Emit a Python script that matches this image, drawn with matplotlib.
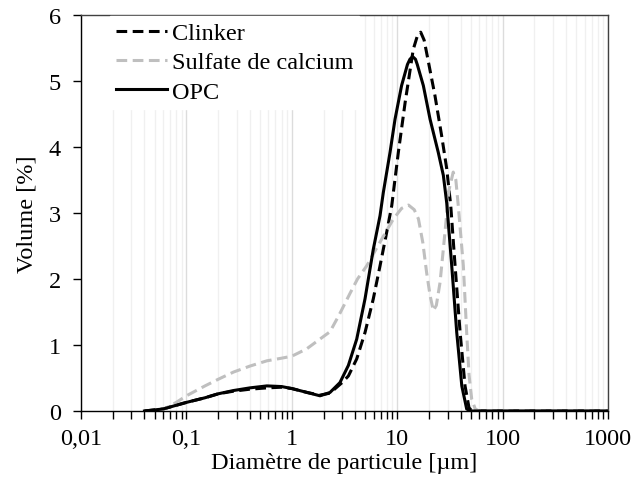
import matplotlib
matplotlib.use('Agg')
import matplotlib.pyplot as plt
from matplotlib.ticker import LogLocator, FixedLocator, FuncFormatter, NullFormatter

# lecture des courbes granulometriques (diametre en um, volume en %)
clinker_x = [0.04, 0.06, 0.1, 0.15, 0.2, 0.28, 0.4, 0.58, 0.8, 1.0, 1.4, 1.85, 2.3, 3.0, 3.44,
             4.13, 4.95, 5.93, 6.87, 7.95, 8.87, 10.25, 11.9, 14.2, 15.5, 16.7, 18.0, 19.0, 22.8,
             26.4, 29.5, 32.2, 35.4, 39.5, 44.0, 48.0, 51.0, 100.0, 1000.0]
clinker_y = [0.0, 0.03, 0.13, 0.2, 0.26, 0.3, 0.33, 0.35, 0.36, 0.34, 0.28, 0.24, 0.27, 0.43, 0.53,
             0.79, 1.19, 1.7, 2.2, 2.71, 3.11, 3.92, 4.68, 5.48, 5.68, 5.74, 5.62, 5.43, 4.78,
             4.17, 3.67, 3.11, 2.2, 1.19, 0.38, 0.05, 0.0, 0.0, 0.0]

sulfate_x = [0.055, 0.065, 0.08, 0.1, 0.15, 0.2, 0.28, 0.4, 0.58, 0.8, 1.0, 1.38, 1.85, 2.3, 2.8,
             3.56, 4.2, 5.14, 6.87, 9.2, 11.0, 12.8, 14.5, 15.9, 17.5, 19.0, 20.5, 22.0, 23.5,
             25.5, 28.4, 31.0, 34.0, 36.0, 38.0, 42.4, 45.6, 48.0, 50.9, 55.0, 60.0, 100.0, 1000.0]
sulfate_y = [0.0, 0.05, 0.13, 0.23, 0.38, 0.48, 0.59, 0.68, 0.76, 0.8, 0.83, 0.94, 1.09, 1.2, 1.45,
             1.78, 2.0, 2.2, 2.56, 2.91, 3.07, 3.12, 3.05, 2.91, 2.55, 2.1, 1.75, 1.52, 1.6,
             1.95, 2.71, 3.35, 3.62, 3.5, 3.1, 2.2, 1.19, 0.55, 0.18, 0.03, 0.0, 0.0, 0.0]

opc_x = [0.04, 0.06, 0.1, 0.15, 0.2, 0.28, 0.4, 0.58, 0.8, 1.0, 1.4, 1.85, 2.3, 2.86, 3.44, 4.13,
         4.95, 5.93, 6.87, 7.38, 8.55, 9.53, 11.0, 12.5, 13.2, 14.0, 14.9, 15.5, 17.7, 20.5, 24.5,
         27.4, 29.5, 32.9, 36.7, 41.0, 45.6, 50.0, 100.0, 1000.0]
opc_y = [0.0, 0.03, 0.13, 0.2, 0.26, 0.31, 0.35, 0.38, 0.37, 0.34, 0.28, 0.23, 0.28, 0.43, 0.69, 1.09,
         1.7, 2.45, 2.96, 3.31, 3.92, 4.42, 4.93, 5.25, 5.33, 5.37, 5.33, 5.25, 4.93, 4.42, 3.92,
         3.57, 3.15, 2.2, 1.19, 0.38, 0.03, 0.0, 0.0, 0.0]

plt.rcParams['font.family'] = ['Liberation Serif', 'DejaVu Serif']

fig = plt.figure(figsize=(6.35, 4.81), dpi=100)
ax = fig.add_axes([0.1276, 0.1435, 0.8299, 0.8232])

ax.plot(clinker_x, clinker_y, color='black', lw=2.2, ls=(0, (3.5, 1.8)), label='Clinker', zorder=3)
ax.plot(sulfate_x, sulfate_y, color='#bfbfbf', lw=2.2, ls=(0, (3.5, 1.8)), label='Sulfate de calcium', zorder=3)
ax.plot(opc_x, opc_y, color='black', lw=2.2, label='OPC', zorder=4)

ax.set_xscale('log')
ax.set_xlim(0.01, 1000)
ax.set_ylim(0, 6)
ax.xaxis.set_major_locator(FixedLocator([0.01, 0.1, 1, 10, 100, 1000]))
ax.xaxis.set_minor_locator(LogLocator(base=10, subs=range(2, 10), numticks=20))
ax.xaxis.set_major_formatter(FuncFormatter(lambda v, p: ('%g' % v).replace('.', ',')))
ax.xaxis.set_minor_formatter(NullFormatter())
ax.set_yticks([0, 1, 2, 3, 4, 5, 6])

ax.grid(True, which='major', axis='x', color='#dcdcdc', lw=1.0)
ax.grid(True, which='minor', axis='x', color='#f0f0f0', lw=1.0)
ax.set_axisbelow(True)

ax.tick_params(axis='both', which='both', direction='out', length=5.5, width=1, labelsize=17.5, color='black')
ax.tick_params(axis='x', which='major', pad=7)
ax.tick_params(axis='y', pad=9)
for s in ['top', 'right']:
    ax.spines[s].set_color('#404040')
for s in ax.spines.values():
    s.set_linewidth(1.0)

ax.set_xlabel('Diamètre de particule [µm]', fontsize=17.5, labelpad=2)
ax.set_ylabel('Volume [%]', fontsize=17.5, labelpad=8)

leg = ax.legend(loc='upper left', bbox_to_anchor=(0.045, 1.01), fontsize=17.5, handlelength=2.1,
                handletextpad=0.2, labelspacing=0.3, frameon=True, fancybox=False,
                borderpad=0.25, borderaxespad=0.2)
leg.get_frame().set_edgecolor('white')
leg.get_frame().set_facecolor('white')
leg.get_frame().set_alpha(1)

fig.savefig('out.png', dpi=100)
